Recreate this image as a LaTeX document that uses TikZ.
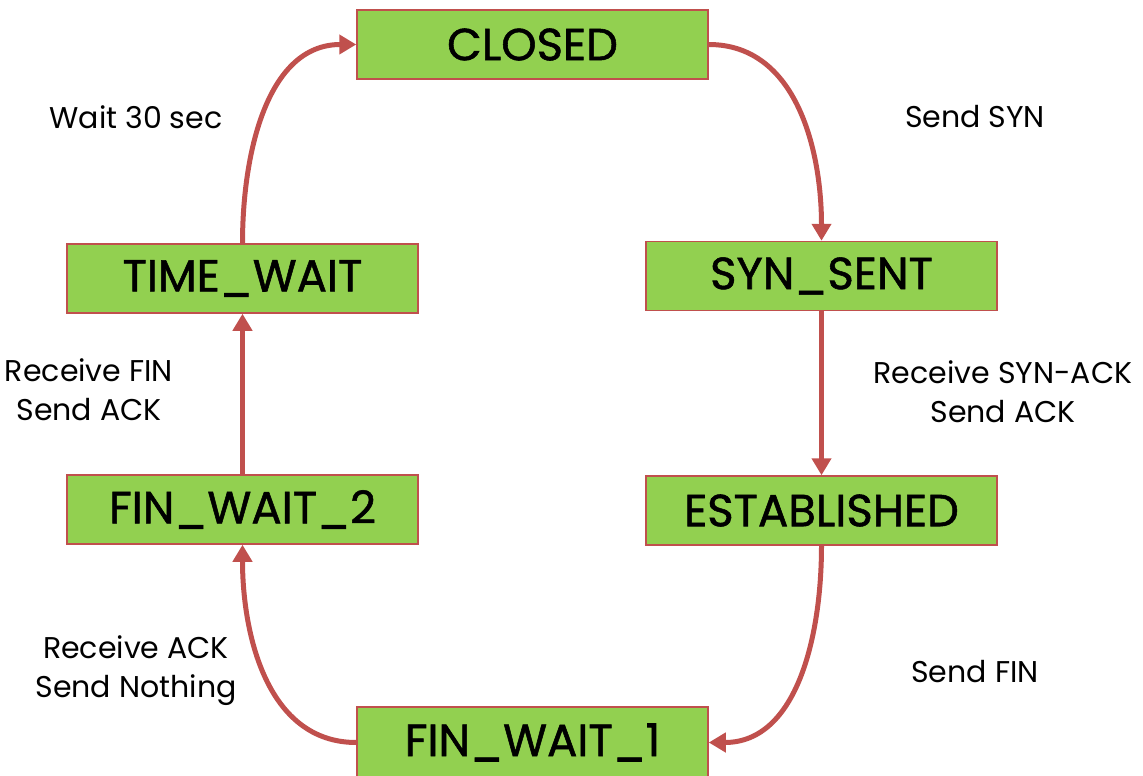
\documentclass[tikz,border=0pt]{standalone}
\usepackage{fontspec}
\setmainfont{Poppins}
\newfontfamily\boxfont[FakeBold=1.2]{Poppins}
\usetikzlibrary{arrows.meta}
\definecolor{boxfill}{HTML}{92D050}
\definecolor{boxline}{HTML}{C0504D}
\tikzset{
  state/.style={rectangle, draw=boxline, line width=1.5pt, fill=boxfill,
    minimum width=351pt, minimum height=69pt, inner sep=0pt,
    font=\boxfont\fontsize{45}{47}\selectfont},
  trans/.style={draw=boxline, line width=5pt, -{Triangle[length=17pt,width=19pt]}},
  lbl/.style={align=center, font=\fontsize{30}{39}\selectfont, inner sep=0pt}
}
\begin{document}
\begin{tikzpicture}[x=1pt,y=-1pt]
\useasboundingbox (0,0) rectangle (1143,776);
\node[state] (closed) at (532.5,44.5) {CLOSED};
\node[state] (synsent) at (821.5,276) {SYN\_SENT};
\node[state] (estab) at (821.5,510.5) {ESTABLISHED};
\node[state, minimum height=71pt] (fw1) at (532.5,742.5) {FIN\_WAIT\_1};
\node[state] (fw2) at (242.5,509.5) {FIN\_WAIT\_2};
\node[state] (tw) at (242.5,278.5) {TIME\_WAIT};

\draw[trans] (closed.east) to[out=0,in=90] (synsent.north);
\draw[trans] (synsent.south) -- (estab.north);
\draw[trans] (estab.south) to[out=270,in=0] (fw1.east);
\draw[trans] (fw1.west) to[out=180,in=270] (fw2.south);
\draw[trans] (fw2.north) -- (tw.south);
\draw[trans] (tw.north) to[out=90,in=180] (closed.west);

\node[lbl] (l1) at (136,117) {Wait 30 sec};
\node[lbl] (l2) at (975,117) {Send SYN};
\node[lbl] (l3) at (1003,392) {Receive SYN-ACK\\Send ACK};
\node[lbl] (l4) at (89,390) {Receive FIN\\Send ACK};
\node[lbl] (l5) at (136,671) {Receive ACK\\Send Nothing};
\node[lbl] (l6) at (975,672) {Send FIN};
\end{tikzpicture}
\end{document}
